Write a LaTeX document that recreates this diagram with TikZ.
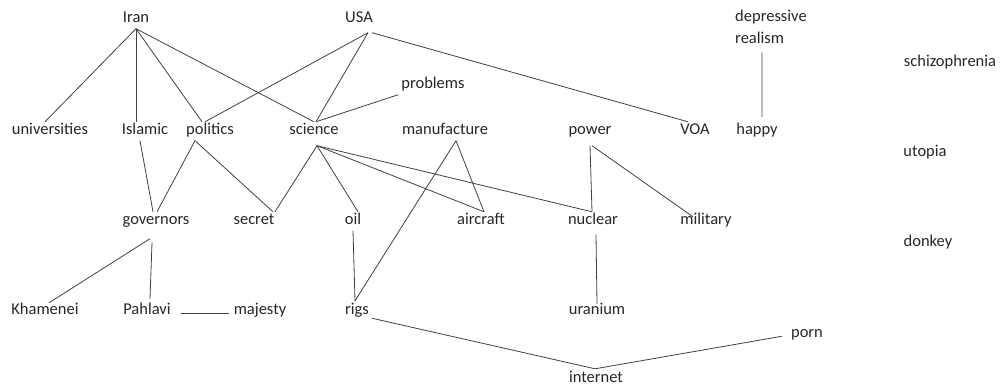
\documentclass[tikz,border=0pt]{standalone}
\usepackage{fontspec}
\setmainfont{Carlito}
\usepackage{tikz}

\begin{document}
\begin{tikzpicture}[x=1pt,y=-1pt,
  wordfont/.style={font=\fontsize{16.5}{22}\selectfont,inner sep=3pt,anchor=base,text=black!85},
  word/.style={wordfont,text height=1em,text depth=0.25em},
  link/.style={draw=black!75,line width=0.8pt}]
  \useasboundingbox (0,0) rectangle (1003,387);
  \node[word] (iran) at (136,23) {Iran};
  \node[word] (usa) at (359,23) {USA};
  \node[wordfont,align=left,anchor=base west] (depr) at (732,44) {depressive\\realism};
  \node[word] (schizo) at (950,67) {schizophrenia};
  \node[word] (probl) at (433,89) {problems};
  \node[word] (univ) at (50,135) {universities};
  \node[word] (islam) at (145,135) {Islamic};
  \node[word] (polit) at (210,135) {politics};
  \node[word] (sci) at (314,135) {science};
  \node[word] (manuf) at (445,135) {manufacture};
  \node[word] (power) at (590,135) {power};
  \node[word] (voa) at (695,135) {VOA};
  \node[word] (happy) at (757,135) {happy};
  \node[word] (utopia) at (925,157) {utopia};
  \node[word] (gov) at (156,225) {governors};
  \node[word] (secret) at (254,225) {secret};
  \node[word] (oil) at (353,225) {oil};
  \node[word] (aircr) at (481,225) {aircraft};
  \node[word] (nucl) at (593,225) {nuclear};
  \node[word] (milit) at (706,225) {military};
  \node[word] (donkey) at (928,247) {donkey};
  \node[word] (kham) at (45,314) {Khamenei};
  \node[word] (pahl) at (147,314) {Pahlavi};
  \node[word] (majes) at (260,314) {majesty};
  \node[word] (rigs) at (357,314) {rigs};
  \node[word] (uran) at (597,314) {uranium};
  \node[word] (porn) at (807,337) {porn};
  \node[word] (inet) at (596,382) {internet};

  \draw[link] (iran.south) -- ([xshift=-5pt]univ.north);
  \draw[link] (iran.south) -- ([xshift=-9pt]islam.north);
  \draw[link] (iran.south) -- ([xshift=-8pt]polit.north);
  \draw[link] (iran.south) -- (sci.north);
  \draw[link] ([xshift=9pt,yshift=-4pt]usa.south) -- ([xshift=-5pt]polit.north);
  \draw[link] ([xshift=9pt,yshift=-4pt]usa.south) -- ([xshift=2pt]sci.north);
  \draw[link] ([xshift=13pt,yshift=-4pt]usa.south) -- ([xshift=-7pt]voa.north);
  \draw[link] (probl.south west) -- ([xshift=2pt]sci.north);
  \draw[link] ([xshift=-9pt,yshift=-5pt]depr.south) -- ([xshift=5pt,yshift=5pt]happy.north);
  \draw[link] ([xshift=-5pt]islam.south) -- ([xshift=-3pt]gov.north);
  \draw[link] ([xshift=-15pt]polit.south) -- ([xshift=1pt]gov.north);
  \draw[link] ([xshift=-15pt]polit.south) -- ([xshift=19pt]secret.north);
  \draw[link] ([xshift=3pt,yshift=-5pt]sci.south) -- ([xshift=21pt]secret.north);
  \draw[link] ([xshift=3pt,yshift=-5pt]sci.south) -- ([xshift=5pt]oil.north);
  \draw[link] ([xshift=3pt,yshift=-5pt]sci.south) -- ([xshift=3pt]aircr.north);
  \draw[link] ([xshift=3pt,yshift=-5pt]sci.south) -- ([xshift=-1pt]nucl.north);
  \draw[link] ([xshift=11pt]manuf.south) -- ([xshift=3pt]aircr.north);
  \draw[link] ([xshift=11pt]manuf.south) -- ([xshift=-2pt]rigs.north);
  \draw[link] ([yshift=-5pt]power.south) -- ([xshift=-1pt]nucl.north);
  \draw[link] ([xshift=2pt,yshift=-5pt]power.south) -- ([xshift=-13pt,yshift=-5pt]milit.north);
  \draw[link] ([xshift=-6pt,yshift=-8pt]gov.south) -- ([xshift=4pt,yshift=-2pt]kham.north);
  \draw[link] ([xshift=-4pt,yshift=-12pt]gov.south) -- ([xshift=3pt,yshift=2pt]pahl.north);
  \draw[link] ([xshift=7pt,yshift=-3pt]pahl.east) -- ([xshift=-2pt,yshift=-3pt]majes.west);
  \draw[link] (oil.south) -- ([xshift=-2pt]rigs.north);
  \draw[link] ([xshift=3pt,yshift=-4pt]nucl.south) -- ([yshift=-3pt]uran.north);
  \draw[link] ([yshift=-8pt]rigs.east) -- ([xshift=-1pt]inet.north);
  \draw[link] ([xshift=-1pt]inet.north) -- ([xshift=-6pt,yshift=-3pt]porn.west);
\end{tikzpicture}
\end{document}
